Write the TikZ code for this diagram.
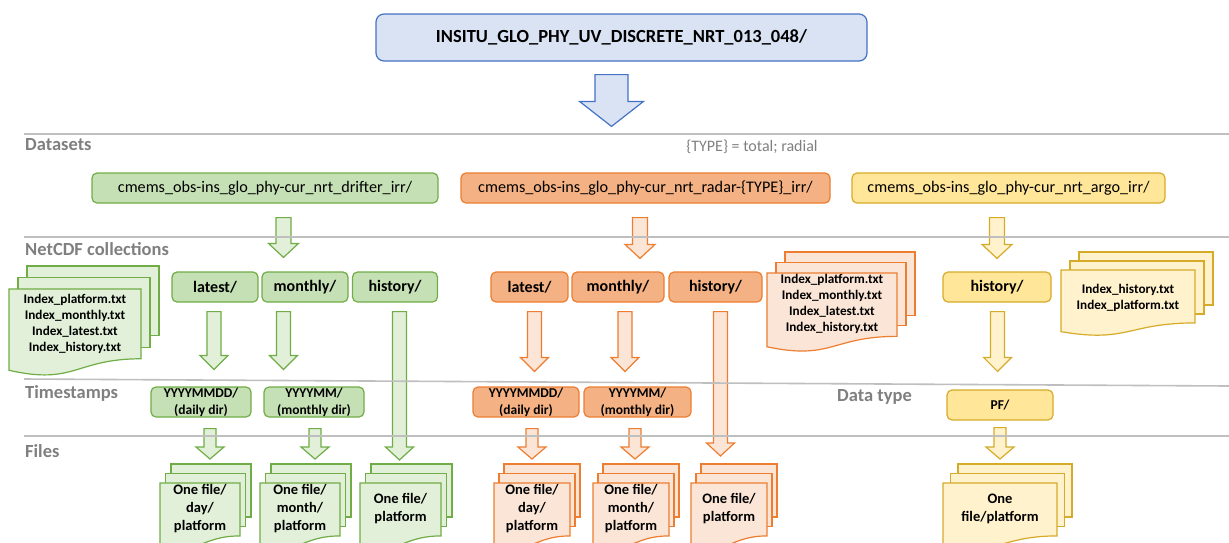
\documentclass[tikz,border=0pt]{standalone}
\usepackage{fontspec}
\setmainfont{Carlito}
\usetikzlibrary{calc}

\definecolor{titlefill}{HTML}{DAE3F3}
\definecolor{titleline}{HTML}{4472C4}
\definecolor{drifterfill}{HTML}{C5E0B4}
\definecolor{drifterlight}{HTML}{E2F0D9}
\definecolor{drifterline}{HTML}{70AD47}
\definecolor{radarfill}{HTML}{F4B183}
\definecolor{radarlight}{HTML}{FBE5D6}
\definecolor{radarline}{HTML}{ED7D31}
\definecolor{argofill}{HTML}{FFE699}
\definecolor{argolight}{HTML}{FFF2CC}
\definecolor{argoline}{HTML}{D6AB2A}
\definecolor{rulegray}{HTML}{BFBFBF}
\definecolor{labelgray}{HTML}{7F7F7F}

\pgfdeclarelayer{pages}
\pgfsetlayers{pages,main}

\tikzset{bshaft/.store in=\bshaft, bhead/.store in=\bhead, bhlen/.store in=\bhlen,
bshaft=7pt, bhead=14pt, bhlen=14pt}

\tikzstyle{product} = [rectangle, rounded corners=8pt, minimum width=491pt,
minimum height=47pt, draw=titleline, fill=titlefill, line width=1.2pt,
font=\bfseries\fontsize{18.5}{22}\selectfont]
\tikzstyle{dataset} = [rectangle, rounded corners=5pt, minimum height=30pt,
line width=1.2pt, font=\fontsize{16.2}{19}\selectfont]
\tikzstyle{folder} = [rectangle, rounded corners=5pt, minimum height=30pt,
line width=1.2pt, font=\bfseries\fontsize{16}{19}\selectfont]
\tikzstyle{stamp} = [rectangle, rounded corners=5pt, minimum height=30pt,
inner sep=0pt, line width=1.2pt, align=center,
font=\bfseries\fontsize{13.5}{17}\selectfont]
\tikzstyle{indextext} = [align=center, inner sep=0pt,
font=\bfseries\fontsize{13.2}{16}\selectfont]
\tikzstyle{filetext} = [align=center, inner sep=0pt,
font=\bfseries\fontsize{14.5}{18}\selectfont]
\tikzstyle{tier} = [anchor=west, text=labelgray, inner sep=0pt,
font=\bfseries\fontsize{18.5}{22}\selectfont]
\tikzstyle{divider} = [draw=rulegray, line width=1.6pt]
\tikzstyle{drifter} = [draw=drifterline, fill=drifterfill]
\tikzstyle{drifterpale} = [draw=drifterline, fill=drifterlight]
\tikzstyle{radar} = [draw=radarline, fill=radarfill]
\tikzstyle{radarpale} = [draw=radarline, fill=radarlight]
\tikzstyle{argo} = [draw=argoline, fill=argofill]
\tikzstyle{argopale} = [draw=argoline, fill=argolight]

% fat down arrow from #2 to the height of #3
\newcommand{\blockarrow}[3][]{%
\path #2 coordinate (ba-top) #3 coordinate (ba-tip);
\filldraw[line width=1.2pt, line join=miter, #1] let \p1=(ba-top), \p2=(ba-tip) in
(\x1-\bshaft,\y1) -- (\x1-\bshaft,\y2+\bhlen) -- (\x1-\bhead,\y2+\bhlen) -- (\x1,\y2)
-- (\x1+\bhead,\y2+\bhlen) -- (\x1+\bshaft,\y2+\bhlen) -- (\x1+\bshaft,\y1) -- cycle;
}

% stack of three pages behind node #2: width, height, top above centre, page shift
\newcommand{\docstack}[7][]{%
\begin{pgfonlayer}{pages}
\path (#2.center) ++({-(#3)/2},{-(#5)}) coordinate (dp);
\foreach \k in {2,1}
\filldraw[line width=1.2pt, #1] ($(dp)+(\k*#6,-\k*#7)$) rectangle ++(#3,0.802*#4);
\filldraw[line width=1.2pt, #1] (dp) -- ($(dp)+(#3,0)$) -- ($(dp)+(#3,0.802*#4)$)
.. controls ($(dp)+(0.5*#3,0.802*#4)$) and ($(dp)+(0.5*#3,1.108*#4)$) ..
($(dp)+(0,0.934*#4)$) -- cycle;
\end{pgfonlayer}}

\begin{document}
\begin{tikzpicture}[x=1pt, y=-1pt, node distance=90pt]
\useasboundingbox (0,0) rectangle (1229,542);
\clip (0,0) rectangle (1229,542);

\node(product)[product] at (621.5,37.5) {INSITU\_GLO\_PHY\_UV\_DISCRETE\_NRT\_013\_048/};

\node(datasets)[tier] at (25,145) {Datasets};
\node(collections)[tier] at (25,249) {NetCDF collections};
\node(timestamps)[tier] at (25,393) {Timestamps};
\node(files)[tier] at (25,451) {Files};
\node(datatype)[tier] at (837,397) {Data type};
\node(typenote)[text=labelgray, font=\fontsize{16}{19}\selectfont] at (752,147)
{\{TYPE\} = total; radial};

\node(drifter)[dataset, drifter, minimum width=346pt] at (265,188)
{cmems\_obs-ins\_glo\_phy-cur\_nrt\_drifter\_irr/};
\node(radar)[dataset, radar, minimum width=369pt] at (645.5,188)
{cmems\_obs-ins\_glo\_phy-cur\_nrt\_radar-\{TYPE\}\_irr/};
\node(argo)[dataset, argo, minimum width=313pt] at (1008.5,188)
{cmems\_obs-ins\_glo\_phy-cur\_nrt\_argo\_irr/};

\node(glatest)[folder, drifter, minimum width=86pt] at (215,287) {latest/};
\node(gmonthly)[folder, drifter, minimum width=86pt, right of=glatest] {monthly/};
\node(ghistory)[folder, drifter, minimum width=85pt, right of=gmonthly] {history/};
\node(rlatest)[folder, radar, minimum width=77pt] at (529.5,287) {latest/};
\node(rmonthly)[folder, radar, minimum width=92pt, right of=rlatest, xshift=-1.5pt] {monthly/};
\node(rhistory)[folder, radar, minimum width=93pt, right of=rmonthly, xshift=7.5pt] {history/};
\node(ahistory)[folder, argo, minimum width=108pt] at (997,287) {history/};

\node(gindex)[indextext] at (75,324)
{Index\_platform.txt\\Index\_monthly.txt\\Index\_latest.txt\\Index\_history.txt};
\node(rindex)[indextext] at (832,304)
{Index\_platform.txt\\Index\_monthly.txt\\Index\_latest.txt\\Index\_history.txt};
\node(aindex)[indextext] at (1128,298) {Index\_history.txt\\Index\_platform.txt};
\docstack[drifterpale]{gindex}{132}{87}{35}{9}{11.5}
\docstack[radarpale]{rindex}{130}{79}{31}{9}{10.5}
\docstack[argopale]{aindex}{134}{66}{28}{9}{9}

\node(gdaily)[stamp, drifter, minimum width=100pt] at (201,402) {YYYYMMDD/\\(daily dir)};
\node(gmonth)[stamp, drifter, minimum width=100pt, right of=gdaily, xshift=23pt]
{YYYYMM/\\(monthly dir)};
\node(rdaily)[stamp, radar, minimum width=106pt] at (526,402) {YYYYMMDD/\\(daily dir)};
\node(rmonth)[stamp, radar, minimum width=107pt, right of=rdaily, xshift=21.5pt]
{YYYYMM/\\(monthly dir)};
\node(apf)[stamp, argo, minimum width=106pt] at (1000,405) {PF/};

\node(gdayfiles)[filetext] at (200,509) {One file/\\day/\\platform};
\node(gmonthfiles)[filetext, right of=gdayfiles, node distance=100pt] {One file/\\month/\\platform};
\node(ghistfiles)[filetext, right of=gmonthfiles, node distance=100.5pt] {One file/\\platform};
\node(rdayfiles)[filetext] at (532,509) {One file/\\day/\\platform};
\node(rmonthfiles)[filetext, right of=rdayfiles, node distance=99pt] {One file/\\month/\\platform};
\node(rhistfiles)[filetext, right of=rmonthfiles, node distance=98pt] {One file/\\platform};
\node(afiles)[filetext] at (1000,509) {One\\file/platform};
\docstack[drifterpale]{gdayfiles}{80}{66}{26}{5.5}{9.5}
\docstack[drifterpale]{gmonthfiles}{80}{66}{26}{5.5}{9.5}
\docstack[drifterpale]{ghistfiles}{81}{66}{26}{5.5}{9.5}
\docstack[radarpale]{rdayfiles}{76}{66}{26}{5}{9.5}
\docstack[radarpale]{rmonthfiles}{76}{66}{26}{5}{9.5}
\docstack[radarpale]{rhistfiles}{76}{66}{26}{5}{9.5}
\docstack[argopale]{afiles}{114}{66}{26}{7.5}{9.5}

\blockarrow[draw=titleline, fill=titlefill, bshaft=16.5pt, bhead=32pt, bhlen=25pt]
{($(product.south)+(-10,13)$)}{($(radar.north)+(0,-46)$)}

\blockarrow[drifterpale, bshaft=7.5pt, bhead=15pt]
{($(drifter.south)+(18.5,14)$)}{($(gmonthly.north)+(0,-14)$)}
\blockarrow[radarpale, bshaft=7.5pt, bhead=15pt]
{($(radar.south)+(-5.5,14)$)}{($(rmonthly.north)+(0,-13)$)}
\blockarrow[argopale, bshaft=7.5pt, bhead=15pt]
{($(argo.south -| ahistory.north)+(0,14)$)}{($(ahistory.north)+(0,-13)$)}

\blockarrow[drifterpale]{($(glatest.south)+(-1,9)$)}{($(gdaily.north)+(0,-17)$)}
\blockarrow[drifterpale]{($(gmonthly.south)+(-21.5,9)$)}{($(gmonth.north)+(0,-17)$)}
\blockarrow[drifterpale, bhlen=13pt]{($(ghistory.south)+(4.5,9)$)}{($(ghistfiles.center)+(0,-49)$)}
\blockarrow[radarpale]{($(rlatest.south)+(5,9)$)}{($(rdaily.north)+(0,-15)$)}
\blockarrow[radarpale]{($(rmonthly.south)+(7,9)$)}{($(rmonth.north)+(0,-15)$)}
\blockarrow[radarpale, bhlen=13pt]{($(rhistory.south)+(5,9)$)}{($(rhistfiles.center)+(0,-53)$)}
\blockarrow[argopale]{($(ahistory.south)+(0.5,9)$)}{($(apf.north)+(0,-18)$)}

\blockarrow[drifterpale, bshaft=6pt, bhlen=12pt]{($(gdaily.south)+(9,11)$)}{($(gdayfiles.center)+(0,-50)$)}
\blockarrow[drifterpale, bshaft=6pt, bhlen=12pt]{($(gmonth.south)+(1,11)$)}{($(gmonthfiles.center)+(0,-50)$)}
\blockarrow[radarpale, bshaft=6pt, bhlen=12pt]{($(rdaily.south)+(6,11)$)}{($(rdayfiles.center)+(0,-50)$)}
\blockarrow[radarpale, bshaft=6pt, bhlen=12pt]{($(rmonth.south)+(-2.5,11)$)}{($(rmonthfiles.center)+(0,-50)$)}
\blockarrow[argopale, bshaft=6pt, bhlen=12pt]{($(apf.south)+(0,7)$)}{($(afiles.center)+(0,-50)$)}

\draw[divider] (24,134) -- (1229,134);
\draw[divider] (24,237) -- (1229,237);
\draw[divider] (24,379) -- (1229,386);
\draw[divider] (24,436) -- (1229,436);

\end{tikzpicture}
\end{document}
